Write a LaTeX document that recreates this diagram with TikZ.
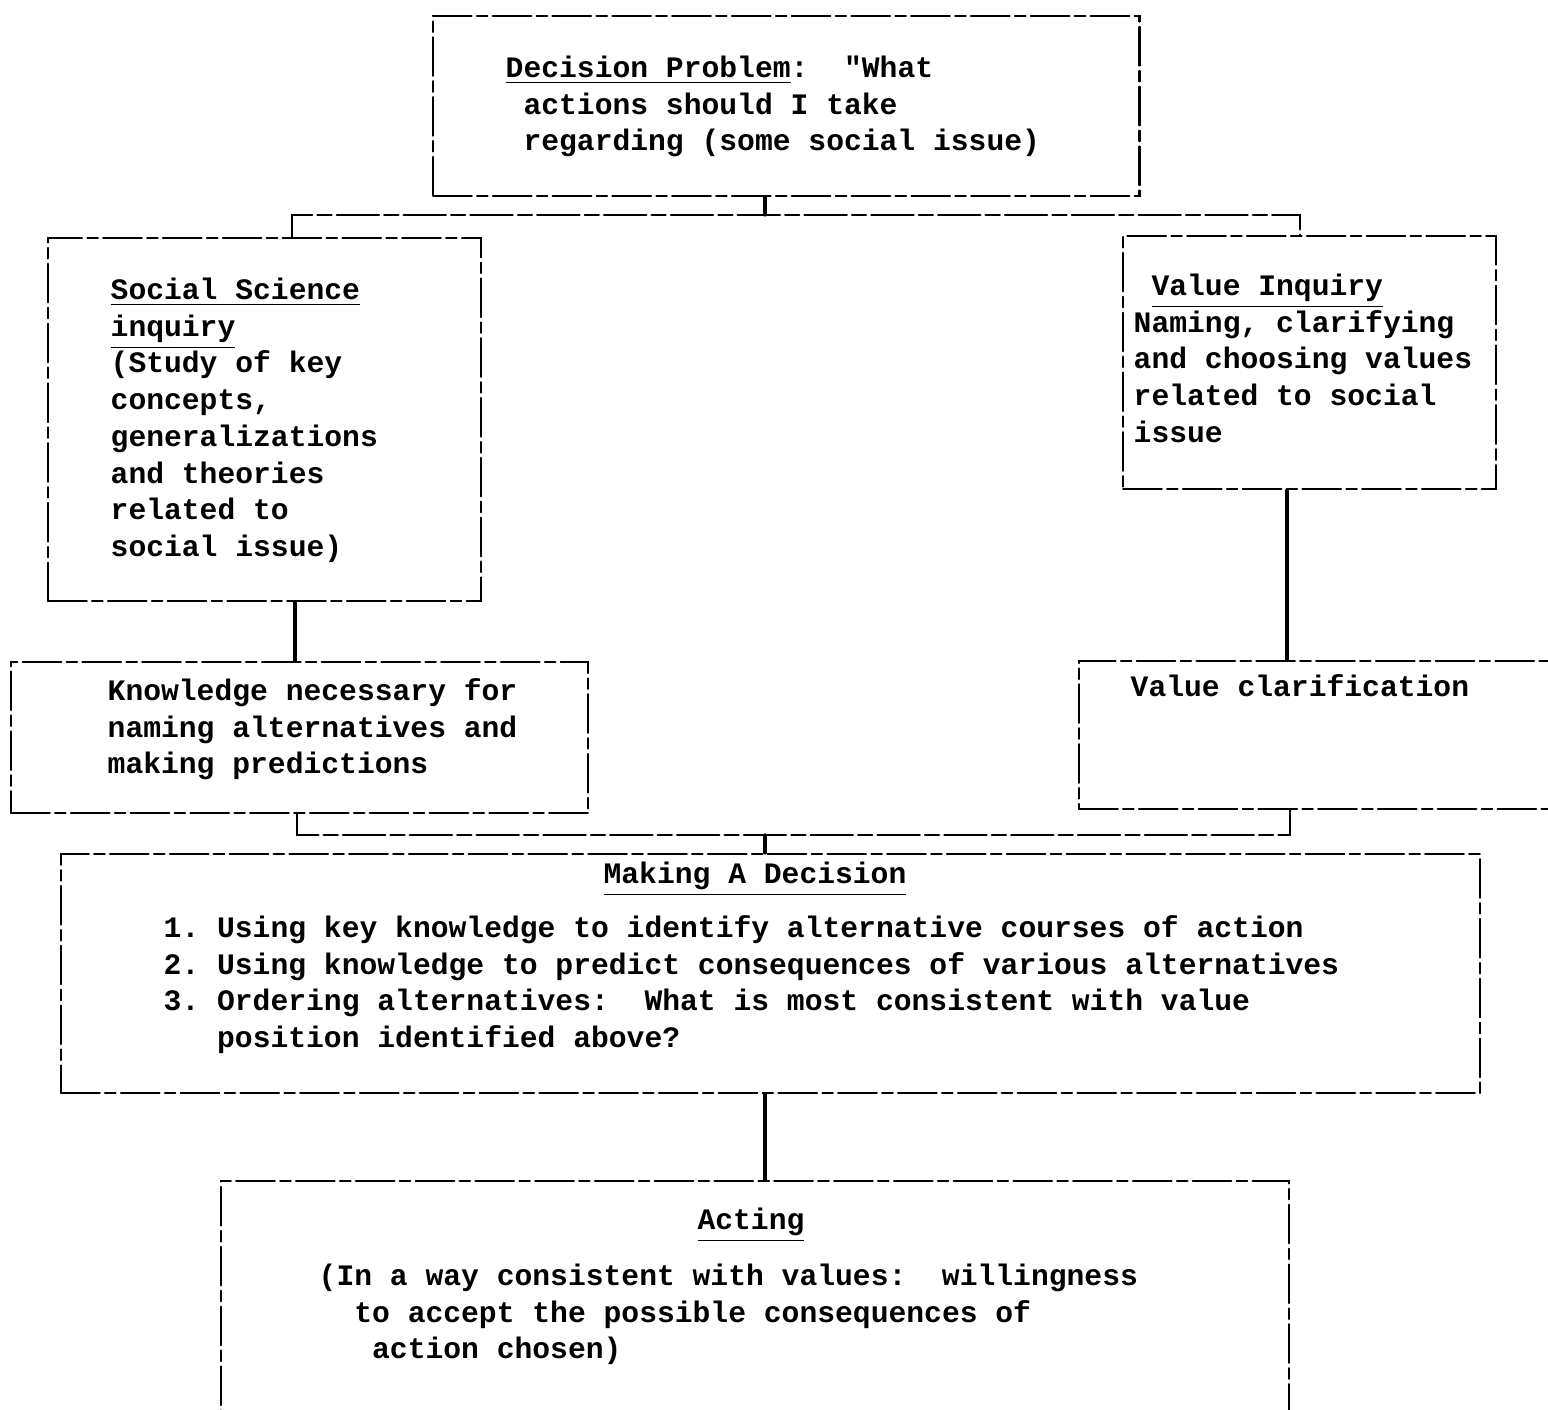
\documentclass[tikz,border=0pt]{standalone}
\usepackage{fontspec}
\setmonofont{Liberation Mono}
\usetikzlibrary{positioning}
\tikzset{
  box/.style={draw, line width=0.6pt, dash pattern=on 11pt off 1.5pt on 3pt off 1.5pt,
    anchor=north west, inner sep=0pt},
  txt/.style={anchor=north west, inner sep=0pt, align=left,
    font=\ttfamily\bfseries\fontsize{8.44}{10.45}\selectfont\frenchspacing},
  link/.style={line width=0.9pt},
  bus/.style={line width=0.7pt, dash pattern=on 12pt off 1.5pt on 4pt off 1.5pt}
}

\begin{document}
\begin{tikzpicture}[x=0.01cm, y=-0.01cm, line cap=round]
  \useasboundingbox (0,0) rectangle (1548,1410);

  % boxes
  \node[box, minimum width=7.06cm, minimum height=1.80cm] (dec) at (432,15) {};
  \node[box, minimum width=4.33cm, minimum height=3.63cm] (soc) at (47,237) {};
  \node[box, minimum width=3.73cm, minimum height=2.53cm] (val) at (1122,235) {};
  \node[box, minimum width=5.77cm, minimum height=1.51cm] (know) at (10,661) {};
  \node[box, minimum width=4.82cm, minimum height=1.48cm] (clar) at (1078,660) {};
  \node[box, minimum width=14.18cm, minimum height=2.39cm] (mak) at (60,853) {};
  \node[box, minimum width=10.67cm, minimum height=2.50cm] (act) at (220,1180) {};

  % texts
  \node[txt] (decT) at (505,51) {\strut\underline{Decision Problem}: ~"What\\
    \phantom{x}actions should I take\\
    \phantom{x}regarding (some social issue)};
  \node[txt] (socT) at (110,273) {\strut\underline{Social Science}\\
    \underline{inquiry}\\(Study of key\\concepts,\\generalizations\\
    and theories\\related to\\social issue)};
  \node[txt] (valT) at (1133,269) {\strut\phantom{x}\underline{Value Inquiry}\\
    Naming, clarifying\\and choosing values\\related to social\\issue};
  \node[txt] (knowT) at (107,674) {\strut Knowledge necessary for\\
    naming alternatives and\\making predictions};
  \node[txt] (clarT) at (1130,670) {\strut Value clarification};
  \node[txt, anchor=north] (makT) at (755,857) {\strut\underline{Making A Decision}};
  \node[txt] (makL) at (163,911) {\strut 1. Using key knowledge to identify alternative courses of action\\
    2. Using knowledge to predict consequences of various alternatives\\
    3. Ordering alternatives: ~What is most consistent with value\\
    \phantom{3.~}position identified above?};
  \node[txt, anchor=north] (actT) at (751,1203) {\strut\underline{Acting}};
  \node[txt] (actB) at (318,1259) {\strut(In a way consistent with values: ~willingness\\
    \phantom{xx}to accept the possible consequences of\\
    \phantom{xxx}action chosen)};

  % connectors
  \coordinate (topbus) at (765,215);
  \coordinate (xa) at (292,0);
  \coordinate (xb) at (1300,0);
  \draw[link] (dec.south -| topbus) -- (topbus);
  \draw[bus] (soc.north -| xa) |- (topbus) -| (val.north -| xb);

  \coordinate (xc) at (295,0);
  \coordinate (xd) at (1287,0);
  \draw[link] (soc.south -| xc) -- (know.north -| xc);
  \draw[link] (val.south -| xd) -- (clar.north -| xd);

  \coordinate (lowbus) at (765,835);
  \coordinate (xe) at (297,0);
  \coordinate (xf) at (1290,0);
  \draw[bus] (know.south -| xe) |- (lowbus) -| (clar.south -| xf);
  \draw[link] (lowbus) -- (mak.north -| lowbus);
  \draw[link] (mak.south -| lowbus) -- (act.north -| lowbus);

\end{tikzpicture}
\end{document}
